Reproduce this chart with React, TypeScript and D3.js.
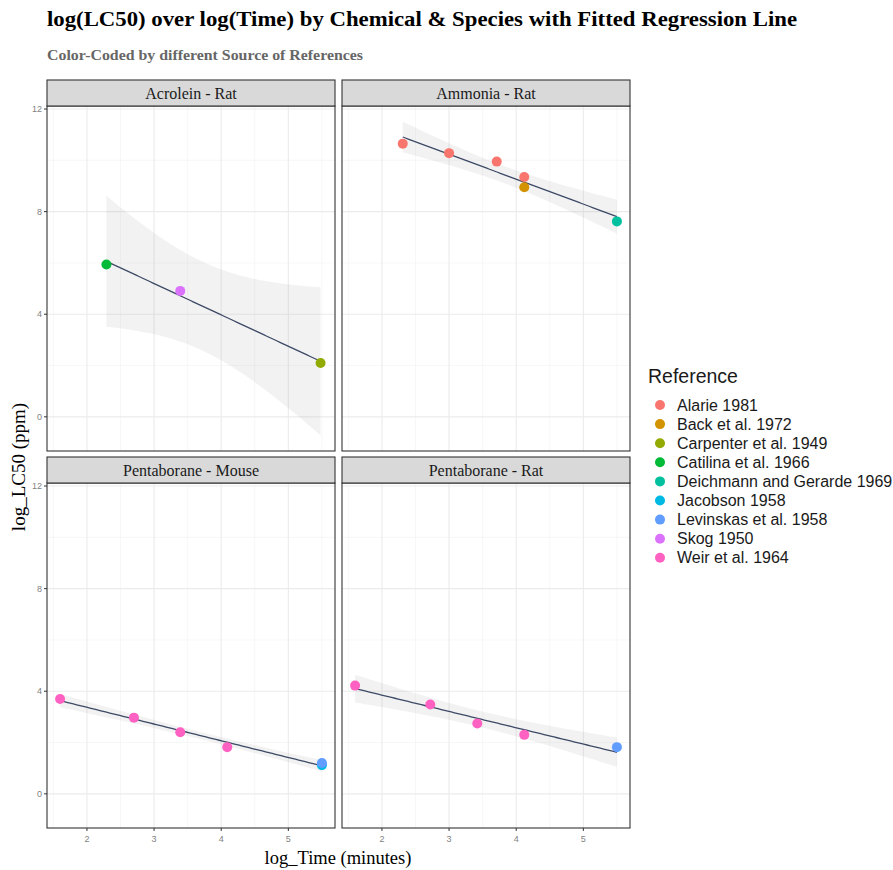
import * as d3 from 'd3';

// reference palette (ggplot hue scale, 9 levels)
const refNames = [
  'Alarie 1981',
  'Back et al. 1972',
  'Carpenter et al. 1949',
  'Catilina et al. 1966',
  'Deichmann and Gerarde 1969',
  'Jacobson 1958',
  'Levinskas et al. 1958',
  'Skog 1950',
  'Weir et al. 1964',
];
const refColors = ['#F8766D', '#D39200', '#93AA00', '#00BA38', '#00C19F', '#00B9E3', '#619CFF', '#DB72FB', '#FF61C3'];

const panelNames = ['Acrolein - Rat', 'Ammonia - Rat', 'Pentaborane - Mouse', 'Pentaborane - Rat'];

// log time (minutes), log LC50 (ppm), reference index
const acroleinTime = [2.29, 3.39, 5.48];
const acroleinLC50 = [5.94, 4.91, 2.1];
const acroleinRef = [3, 7, 2];

const ammoniaTime = [2.31, 3.0, 3.71, 4.12, 4.12, 5.5];
const ammoniaLC50 = [10.65, 10.28, 9.95, 9.35, 8.95, 7.62];
const ammoniaRef = [0, 0, 0, 0, 1, 4];

const pentaMouseTime = [1.6, 2.7, 3.39, 4.09, 5.5, 5.5];
const pentaMouseLC50 = [3.7, 2.97, 2.4, 1.82, 1.12, 1.2];
const pentaMouseRef = [8, 8, 8, 8, 5, 6];

const pentaRatTime = [1.6, 2.72, 3.42, 4.12, 5.5];
const pentaRatLC50 = [4.22, 3.48, 2.74, 2.3, 1.82];
const pentaRatRef = [8, 8, 8, 8, 6];

const xTicks = [2, 3, 4, 5];
const yTicks = [0, 4, 8, 12];

// two-sided 95% t quantiles by degrees of freedom
const tQuant: Record<number, number> = { 1: 12.706, 2: 4.303, 3: 3.182, 4: 2.776, 5: 2.571 };

const panelData = [
  { xs: acroleinTime, ys: acroleinLC50, refs: acroleinRef },
  { xs: ammoniaTime, ys: ammoniaLC50, refs: ammoniaRef },
  { xs: pentaMouseTime, ys: pentaMouseLC50, refs: pentaMouseRef },
  { xs: pentaRatTime, ys: pentaRatLC50, refs: pentaRatRef },
];

// lm fit with confidence band, like geom_smooth(method = "lm")
const fitLm = (xs: number[], ys: number[]) => {
  const n = xs.length;
  const mx = d3.mean(xs)!;
  const my = d3.mean(ys)!;
  const sxx = d3.sum(xs, x => (x - mx) ** 2);
  const sxy = d3.sum(xs, (x, i) => (x - mx) * (ys[i] - my));
  const b = sxy / sxx;
  const a = my - b * mx;
  const sse = d3.sum(xs, (x, i) => (ys[i] - (a + b * x)) ** 2);
  const s = Math.sqrt(sse / (n - 2));
  const t = tQuant[n - 2];
  const [lo, hi] = d3.extent(xs) as [number, number];
  return d3.range(80).map(i => {
    const x = lo + ((hi - lo) * i) / 79;
    const yhat = a + b * x;
    const se = s * Math.sqrt(1 / n + (x - mx) ** 2 / sxx);
    return { x, y: yhat, lo: yhat - t * se, hi: yhat + t * se };
  });
};

const fits = panelData.map(p => fitLm(p.xs, p.ys));

const W = 893;
const H = 870;
const colX = [47, 342];
const rowY = [80, 457];
const panelW = 288;
const stripH = 26;
const panelH = 345;

const allX = panelData.flatMap(p => p.xs);
const allY = [...panelData.flatMap(p => p.ys), ...fits.flatMap(f => f.flatMap(d => [d.lo, d.hi]))];
const expand = ([a, b]: [number, number]) => [a - (b - a) * 0.05, b + (b - a) * 0.05];
const xDom = expand(d3.extent(allX) as [number, number]);
const yDom = expand(d3.extent(allY) as [number, number]);

const serif = '"Liberation Serif", "Times New Roman", serif';
const sans = '"Liberation Sans", Arial, sans-serif';

const Panel = ({ idx }: { idx: number }) => {
  const col = idx % 2;
  const row = Math.floor(idx / 2);
  const left = colX[col];
  const top = rowY[row] + stripH;
  const x = d3.scaleLinear().domain(xDom).range([left, left + panelW]);
  const y = d3.scaleLinear().domain(yDom).range([top + panelH, top]);
  const fit = fits[idx];
  const p = panelData[idx];

  const band = d3
    .area<{ x: number; lo: number; hi: number }>()
    .x(d => x(d.x))
    .y0(d => y(d.lo))
    .y1(d => y(d.hi));
  const line = d3
    .line<{ x: number; y: number }>()
    .x(d => x(d.x))
    .y(d => y(d.y));

  const minorX = d3.range(1.5, 6, 1).filter(v => v > xDom[0] && v < xDom[1]);
  const minorY = [2, 6, 10];

  return (
    <g>
      <defs>
        <clipPath id={`clip${idx}`}>
          <rect x={left} y={top} width={panelW} height={panelH} />
        </clipPath>
      </defs>
      <rect x={left} y={top} width={panelW} height={panelH} fill="#fff" />
      <g clipPath={`url(#clip${idx})`}>
        {minorX.map(v => (
          <line key={'mx' + v} x1={x(v)} x2={x(v)} y1={top} y2={top + panelH} stroke="#f2f2f2" strokeWidth={0.6} />
        ))}
        {minorY.map(v => (
          <line key={'my' + v} x1={left} x2={left + panelW} y1={y(v)} y2={y(v)} stroke="#f2f2f2" strokeWidth={0.6} />
        ))}
        {xTicks.map(v => (
          <line key={'gx' + v} x1={x(v)} x2={x(v)} y1={top} y2={top + panelH} stroke="#ebebeb" strokeWidth={1.1} />
        ))}
        {yTicks.map(v => (
          <line key={'gy' + v} x1={left} x2={left + panelW} y1={y(v)} y2={y(v)} stroke="#ebebeb" strokeWidth={1.1} />
        ))}
        <path d={band(fit) ?? ''} fill="#999" fillOpacity={0.13} />
        <path d={line(fit) ?? ''} fill="none" stroke="#3d4a66" strokeWidth={1.3} />
        {p.xs.map((v, i) => (
          <circle key={i} cx={x(v)} cy={y(p.ys[i])} r={5} fill={refColors[p.refs[i]]} />
        ))}
      </g>
      <rect x={left} y={top} width={panelW} height={panelH} fill="none" stroke="#333" strokeWidth={1.1} />
      <rect x={left} y={rowY[row]} width={panelW} height={stripH} fill="#d9d9d9" stroke="#333" strokeWidth={1.1} />
      <text
        x={left + panelW / 2}
        y={rowY[row] + stripH / 2 + 5.5}
        textAnchor="middle"
        fontFamily={serif}
        fontSize={16}
        fill="#1a1a1a"
      >
        {panelNames[idx]}
      </text>
      {col === 0 &&
        yTicks.map(v => (
          <g key={'ty' + v}>
            <line x1={left - 3} x2={left} y1={y(v)} y2={y(v)} stroke="#333" />
            <text x={left - 5} y={y(v) + 3} textAnchor="end" fontFamily={sans} fontSize={9} fill="#7f7f7f">
              {v}
            </text>
          </g>
        ))}
      {row === 1 &&
        xTicks.map(v => (
          <g key={'tx' + v}>
            <line x1={x(v)} x2={x(v)} y1={top + panelH} y2={top + panelH + 3} stroke="#333" />
            <text x={x(v)} y={top + panelH + 14} textAnchor="middle" fontFamily={sans} fontSize={9} fill="#7f7f7f">
              {v}
            </text>
          </g>
        ))}
    </g>
  );
};

const App = () => {
  return (
    <svg width={W} height={H} style={{ position: 'absolute', left: 0, top: 0, background: '#fff' }}>
      <rect width={W} height={H} fill="#fff" />
      <text
        x={47}
        y={26}
        fontFamily={serif}
        fontWeight="bold"
        fontSize={22}
        fill="#000"
        textLength={750}
        lengthAdjust="spacingAndGlyphs"
      >
        log(LC50) over log(Time) by Chemical &amp; Species with Fitted Regression Line
      </text>
      <text
        x={47}
        y={60}
        fontFamily={serif}
        fontWeight="bold"
        fontSize={14}
        fill="#666"
        textLength={316}
        lengthAdjust="spacingAndGlyphs"
      >
        Color-Coded by different Source of References
      </text>
      {panelNames.map((_, i) => (
        <Panel key={i} idx={i} />
      ))}
      <text x={338} y={864} textAnchor="middle" fontFamily={serif} fontSize={18.5} fill="#000">
        log_Time (minutes)
      </text>
      <text
        transform="translate(25,467) rotate(-90)"
        textAnchor="middle"
        fontFamily={serif}
        fontSize={19}
        fill="#000"
      >
        log_LC50 (ppm)
      </text>
      <g transform="translate(648,0)">
        <text x={0} y={383} fontFamily={sans} fontSize={19.5} fill="#1a1a1a">
          Reference
        </text>
        {refNames.map((r, i) => (
          <g key={r} transform={`translate(0,${405 + i * 19.1})`}>
            <circle cx={12} cy={0} r={5} fill={refColors[i]} />
            <text x={29} y={5.5} fontFamily={sans} fontSize={16} fill="#1a1a1a">
              {r}
            </text>
          </g>
        ))}
      </g>
    </svg>
  );
};

export default App;
